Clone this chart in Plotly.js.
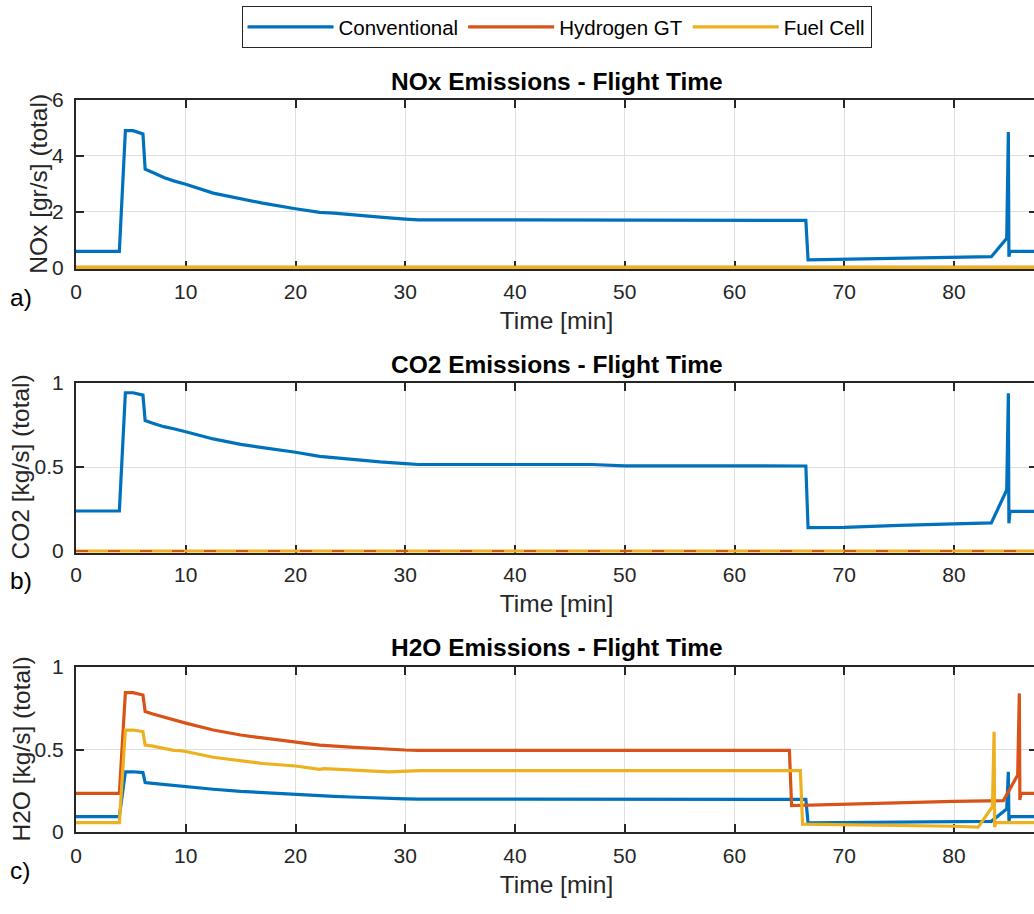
<!DOCTYPE html>
<html><head><meta charset="utf-8">
<script src="https://cdn.plot.ly/plotly-3.0.1.min.js"></script>
<style>html,body{margin:0;padding:0;overflow:hidden;background:#fff}#chart{width:1040px;height:914px}</style>
</head><body><div id="chart"></div><script>
// ---- Data (time in minutes) ----
const seriesNames = ['Conventional', 'Hydrogen GT', 'Fuel Cell'];

const convTime = [0, 3.95, 4.5, 5.2, 6.1, 6.3, 7.0, 8.0, 8.9, 9.5, 10, 12.5, 15, 17, 20, 22.2, 23.5, 25, 27.7, 30, 31.2, 40, 47, 50, 60, 66.5, 66.7, 70, 75, 78, 80, 83.4, 84.8, 84.95, 85.0, 85.1, 87.6];
const convNOx  = [0.57, 0.57, 4.90, 4.90, 4.78, 3.52, 3.40, 3.22, 3.10, 3.05, 2.98, 2.66, 2.45, 2.30, 2.10, 1.97, 1.94, 1.88, 1.80, 1.73, 1.70, 1.70, 1.70, 1.68, 1.68, 1.68, 0.27, 0.29, 0.32, 0.34, 0.36, 0.38, 1.04, 4.85, 0.38, 0.57, 0.57];
const convCO2  = [0.238, 0.238, 0.942, 0.942, 0.928, 0.776, 0.760, 0.740, 0.728, 0.716, 0.710, 0.667, 0.635, 0.615, 0.588, 0.563, 0.555, 0.543, 0.530, 0.520, 0.515, 0.515, 0.515, 0.507, 0.506, 0.506, 0.139, 0.141, 0.153, 0.160, 0.161, 0.167, 0.363, 0.939, 0.165, 0.236, 0.236];
const convH2O  = [0.093, 0.093, 0.365, 0.365, 0.360, 0.300, 0.295, 0.288, 0.283, 0.279, 0.276, 0.259, 0.246, 0.238, 0.228, 0.218, 0.216, 0.212, 0.204, 0.201, 0.199, 0.198, 0.198, 0.198, 0.198, 0.198, 0.056, 0.057, 0.060, 0.062, 0.063, 0.065, 0.140, 0.365, 0.068, 0.093, 0.093];

const h2gtTime = [0, 3.95, 4.5, 5.2, 6.1, 6.3, 7.0, 8.0, 8.9, 9.5, 10, 12.5, 15, 17, 20, 22.2, 25, 27.7, 30, 31.2, 40, 65.0, 65.2, 70, 75, 79, 80, 84.5, 85.8, 85.95, 86.0, 86.1, 87.6];
const h2gtNOx  = [0, 0, 0, 0, 0, 0, 0, 0, 0, 0, 0, 0, 0, 0, 0, 0, 0, 0, 0, 0, 0, 0, 0, 0, 0, 0, 0, 0, 0, 0, 0, 0, 0];
const h2gtCO2  = [0, 0, 0, 0, 0, 0, 0, 0, 0, 0, 0, 0, 0, 0, 0, 0, 0, 0, 0, 0, 0, 0, 0, 0, 0, 0, 0, 0, 0, 0, 0, 0, 0];
const h2gtH2O  = [0.234, 0.234, 0.845, 0.845, 0.830, 0.730, 0.715, 0.695, 0.680, 0.668, 0.660, 0.618, 0.588, 0.570, 0.547, 0.527, 0.515, 0.503, 0.497, 0.495, 0.495, 0.495, 0.160, 0.170, 0.178, 0.187, 0.186, 0.190, 0.345, 0.840, 0.194, 0.234, 0.234];

const fcTime = [0, 3.95, 4.5, 5.2, 6.1, 6.3, 7.0, 8.0, 8.9, 9.5, 10, 12.5, 15, 17, 20, 22.2, 22.6, 25, 27.7, 28.5, 31.3, 40, 66.0, 66.2, 70, 75, 80, 82.2, 83.5, 83.65, 83.7, 83.8, 87.6];
const fcNOx  = [0, 0, 0, 0, 0, 0, 0, 0, 0, 0, 0, 0, 0, 0, 0, 0, 0, 0, 0, 0, 0, 0, 0, 0, 0, 0, 0, 0, 0, 0, 0, 0, 0];
const fcCO2  = [0, 0, 0, 0, 0, 0, 0, 0, 0, 0, 0, 0, 0, 0, 0, 0, 0, 0, 0, 0, 0, 0, 0, 0, 0, 0, 0, 0, 0, 0, 0, 0, 0];
const fcH2O  = [0.057, 0.057, 0.618, 0.618, 0.608, 0.527, 0.520, 0.505, 0.495, 0.493, 0.488, 0.453, 0.430, 0.415, 0.400, 0.380, 0.384, 0.375, 0.365, 0.365, 0.372, 0.372, 0.372, 0.048, 0.045, 0.040, 0.035, 0.030, 0.153, 0.608, 0.030, 0.057, 0.057];

const panelTitles = ['NOx Emissions - Flight Time', 'CO2 Emissions - Flight Time', 'H2O Emissions - Flight Time'];
const yTitles = ['NOx [gr/s] (total)', 'CO2 [kg/s] (total)', 'H2O [kg/s] (total)'];
const xTitle = 'Time [min]';
const panelLetters = ['a)', 'b)', 'c)'];
const xTicks = [0, 10, 20, 30, 40, 50, 60, 70, 80];
const yTicksNOx = [0, 2, 4, 6];
const yTicksKg = [0, 0.5, 1];

// ---- Styling ----
const colors = ['#0072BD', '#D95319', '#EDB120'];
const FONT = '"Liberation Sans", Arial, Helvetica, sans-serif';
const axisColor = '#262626';
const LW = 3.2;

function tr(x, y, idx, panel, extra) {
  const ax = panel === 1 ? '' : String(panel);
  return Object.assign({
    type: 'scatter', mode: 'lines', x: x, y: y,
    name: seriesNames[idx], legendgroup: seriesNames[idx], legendrank: idx + 1,
    showlegend: panel === 1,
    line: {color: colors[idx], width: LW},
    xaxis: 'x' + ax, yaxis: 'y' + ax, hoverinfo: 'skip'
  }, extra || {});
}

const data = [
  tr(convTime, convNOx, 0, 1),
  tr(h2gtTime, h2gtNOx, 1, 1),
  tr(fcTime, fcNOx, 2, 1),
  tr(convTime, convCO2, 0, 2),
  tr(fcTime, fcCO2, 2, 2),
  tr(h2gtTime, h2gtCO2, 1, 2, {line: {color: colors[1], width: 2, dash: '12px,20px'}}),
  tr(convTime, convH2O, 0, 3),
  tr(h2gtTime, h2gtH2O, 1, 3),
  tr(fcTime, fcH2O, 2, 3)
];

const H = 914;
const PL = 76, PW = 961;
// pixel rows of each panel: [top, zero-line, extra px below zero so lines at 0 are not clipped]
const panelPx = [[100, 267.3, 2], [383, 551, 2], [667, 832, 0]];
const yMax = [6, 1, 1];
const domains = panelPx.map(p => [1 - (p[1] + p[2]) / H, 1 - p[0] / H]);
const yMin = panelPx.map((p, i) => -yMax[i] * p[2] / (p[1] - p[0]));

function xax(anchor, extra) {
  return {
    domain: [0, 1], range: [0, 87.56], anchor: anchor,
    tickvals: xTicks, ticks: 'inside', ticklen: 8, tickwidth: 2, tickcolor: axisColor,
    showline: true, linecolor: axisColor, linewidth: 2, mirror: 'ticks',
    showgrid: true, gridcolor: '#dfdfdf', gridwidth: 1, zeroline: false,
    tickfont: {family: FONT, size: 21, color: axisColor},
    ticklabelstandoff: 4 - extra,
    title: {text: xTitle, font: {family: FONT, size: 24.5, color: axisColor}, standoff: 10},
    layer: 'below traces', automargin: false, fixedrange: true
  };
}
function yax(anchor, i, ticks, tickText) {
  return {
    domain: domains[i], range: [yMin[i], yMax[i]], anchor: anchor,
    tickvals: ticks, ticktext: tickText, ticks: 'inside', ticklen: 8, tickwidth: 2, tickcolor: axisColor,
    showline: true, linecolor: axisColor, linewidth: 2, mirror: 'ticks',
    showgrid: true, gridcolor: '#dfdfdf', gridwidth: 1, zeroline: false,
    tickfont: {family: FONT, size: 21, color: axisColor},
    ticklabelstandoff: 6,
    layer: 'below traces', automargin: false, fixedrange: true
  };
}

const titleY = [81, 364, 647];
const letterY = [297, 580, 870];
const yTitleX = [39, 20.5, 21];
const annotations = [];
for (let i = 0; i < 3; i++) {
  annotations.push({
    text: '<b>' + panelTitles[i] + '</b>', xref: 'paper', yref: 'paper',
    x: 0.5, y: 1 - titleY[i] / H, xanchor: 'center', yanchor: 'middle', showarrow: false,
    font: {family: FONT, size: 24.5, color: '#000000'}
  });
  annotations.push({
    text: panelLetters[i], xref: 'paper', yref: 'paper',
    x: (8 - PL) / PW, y: 1 - letterY[i] / H, xanchor: 'left', yanchor: 'middle', showarrow: false,
    font: {family: FONT, size: 24.5, color: '#000000'}
  });
  annotations.push({
    text: yTitles[i], xref: 'paper', yref: 'paper', textangle: -90,
    x: (yTitleX[i] - PL) / PW, y: 1 - (panelPx[i][0] + panelPx[i][1]) / 2 / H,
    xanchor: 'center', yanchor: 'middle', showarrow: false,
    font: {family: FONT, size: 24.5, color: axisColor}
  });
}

const layout = {
  width: 1040, height: 914,
  margin: {l: PL, r: 3, t: 0, b: 0, pad: 0},
  paper_bgcolor: '#ffffff', plot_bgcolor: '#ffffff',
  font: {family: FONT, color: axisColor},
  showlegend: true,
  legend: {
    orientation: 'h', xref: 'paper', yref: 'paper',
    x: (556.5 - PL) / PW, y: 1 - 6 / H, xanchor: 'center', yanchor: 'top',
    bordercolor: axisColor, borderwidth: 1, bgcolor: '#ffffff',
    font: {family: FONT, size: 20.5, color: '#000000'},
    itemwidth: 86, traceorder: 'normal'
  },
  xaxis: xax('y', panelPx[0][2]), yaxis: yax('x', 0, yTicksNOx, ['0', '2', '4', '6']),
  xaxis2: xax('y2', panelPx[1][2]), yaxis2: yax('x2', 1, yTicksKg, ['0', '0.5', '1']),
  xaxis3: xax('y3', panelPx[2][2]), yaxis3: yax('x3', 2, yTicksKg, ['0', '0.5', '1']),
  annotations: annotations
};

Plotly.newPlot('chart', data, layout, {displayModeBar: false, staticPlot: true});
</script></body></html>
